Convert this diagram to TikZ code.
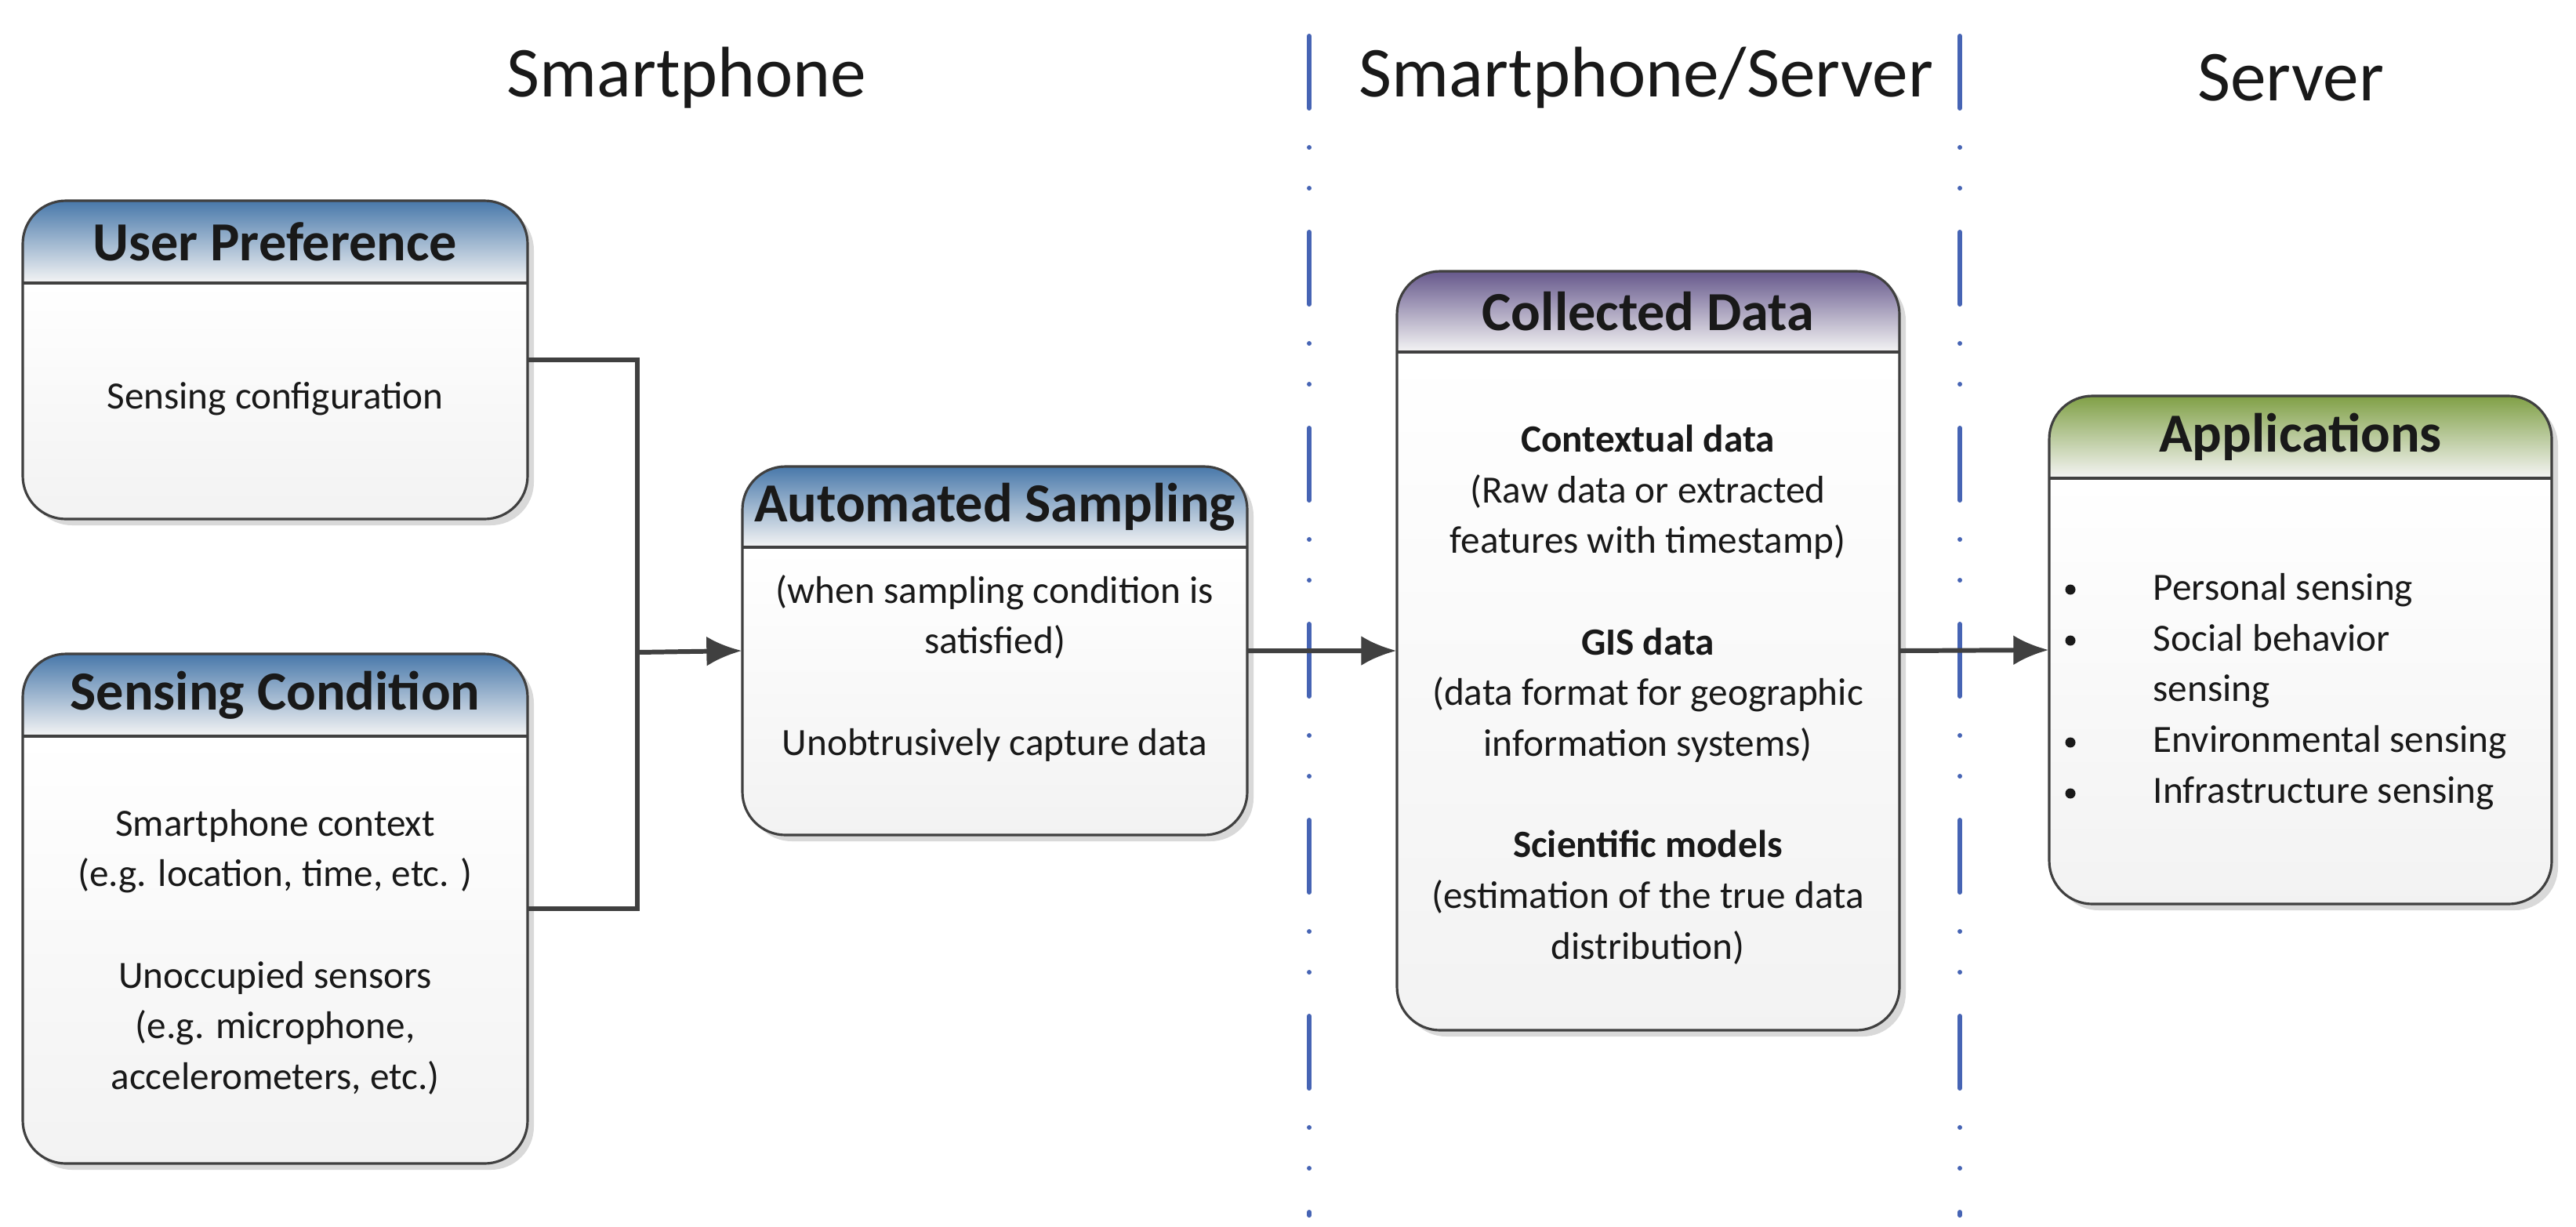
\documentclass[tikz,border=0pt]{standalone}
\usepackage{fontspec}
\setmainfont{Carlito}
\usetikzlibrary{positioning,calc,fit,arrows.meta}

\definecolor{hdblue}{RGB}{72,120,170}
\definecolor{hdpurple}{RGB}{102,88,140}
\definecolor{hdgreen}{RGB}{128,160,70}
\definecolor{linegray}{RGB}{64,64,64}
\definecolor{sepblue}{RGB}{70,100,180}

\tikzset{
    title/.style={font=\fontsize{26}{30}\selectfont, text=black!90},
    head/.style={font=\bfseries\fontsize{20}{24}\selectfont, text=black!90},
    body/.style={font=\fontsize{14}{18.4}\selectfont, align=center, text=black!90},
    conn/.style={draw=linegray, line width=1.7pt},
    arr/.style={conn, -{Latex[length=0.45cm,width=0.38cm]}},
    sep/.style={draw=sepblue, line width=1.7pt, line cap=round,
        dash pattern=on 0.92cm off 0.5cm on 0cm off 0.52cm on 0cm off 0.56cm},
}

% panel: name, x1, y1, x2, y2, header bottom, colour, title
\newcommand{\panel}[8]{
    \fill[gray!30, rounded corners=0.55cm] ($(#2,#3)+(0.08,-0.08)$) rectangle ($(#4,#5)+(0.08,-0.08)$);
    \begin{scope}
        \path[clip, rounded corners=0.55cm] (#2,#3) rectangle (#4,#5);
        \shade[top color=white, bottom color=gray!10] (#2,#6) rectangle (#4,#5);
        \shade[top color=#7, bottom color=gray!8] (#2,#3) rectangle (#4,#6);
    \end{scope}
    \draw[linegray, line width=0.9pt, rounded corners=0.55cm] (#2,#3) rectangle (#4,#5);
    \draw[linegray, line width=0.9pt] (#2,#6) -- (#4,#6);
    \node[fit={(#2,#3)(#4,#5)}, inner sep=0pt] (#1) {};
    \node[head] (#1-head) at ($(#2,#3)!0.5!(#4,#6)$) {#8};
}

\begin{document}
\begin{tikzpicture}
    \useasboundingbox (0,0) rectangle (32.86,-15.64);

    % Column titles
    \node[title] (t-phone) at (8.76,-0.99) {Smartphone};
    \node[title] (t-both) at (21.0,-0.99) {Smartphone/Server};
    \node[title] (t-server) at (29.22,-0.99) {Server};

    % Separators
    \coordinate (s1-top) at (16.70,-0.46);
    \coordinate (s1-bot) at (16.70,-15.5);
    \coordinate (s2-top) at (25.00,-0.46);
    \coordinate (s2-bot) at (25.00,-15.5);
    \draw[sep] (s1-top) -- (s1-bot);
    \draw[sep] (s2-top) -- (s2-bot);

    % Panels
    \panel{pref}{0.29}{-2.56}{6.73}{-6.62}{-3.61}{hdblue}{User Preference}
    \panel{cond}{0.29}{-8.34}{6.73}{-14.84}{-9.39}{hdblue}{Sensing Condition}
    \panel{samp}{9.47}{-5.95}{15.91}{-10.65}{-6.98}{hdblue}{Automated Sampling}
    \panel{data}{17.82}{-3.46}{24.23}{-13.14}{-4.49}{hdpurple}{Collected Data}
    \panel{apps}{26.14}{-5.05}{32.55}{-11.53}{-6.10}{hdgreen}{Applications}

    % Panel contents
    \node[body] (pref-txt) at (3.51,-5.09) {Sensing configuration};
    \node[body] (cond-txt) at (3.51,-12.14) {Smartphone context\\(e.g. location, time, etc. )\\~\\Unoccupied sensors\\(e.g. microphone,\\accelerometers, etc.)};
    \node[body] (samp-txt) at (12.69,-8.52) {(when sampling condition is\\satisfied)\\~\\Unobtrusively capture data};
    \node[body] (data-txt) at (21.02,-8.86) {\textbf{Contextual data}\\(Raw data or extracted\\features with timestamp)\\~\\\textbf{GIS data}\\(data format for geographic\\information systems)\\~\\\textbf{Scientific models}\\(estimation of the true data\\distribution)};
    \node[body, align=left, anchor=west, inner sep=0pt] (apps-txt) at (27.46,-8.82) {Personal sensing\\Social behavior\\sensing\\Environmental sensing\\Infrastructure sensing};
    \foreach \y in {7.52,8.17,9.47,10.12}
        \fill[black!90] (26.41,-\y) circle (0.065);

    % Connectors
    \coordinate (join) at (8.13,-8.32);
    \draw[conn] (pref.east) -| (join);
    \draw[conn] (cond.east) -| (join);
    \draw[arr] (join) -- (samp.west);
    \draw[arr] (samp.east) -- (data.west);
    \draw[arr] (data.east) -- (apps.west);
\end{tikzpicture}
\end{document}
